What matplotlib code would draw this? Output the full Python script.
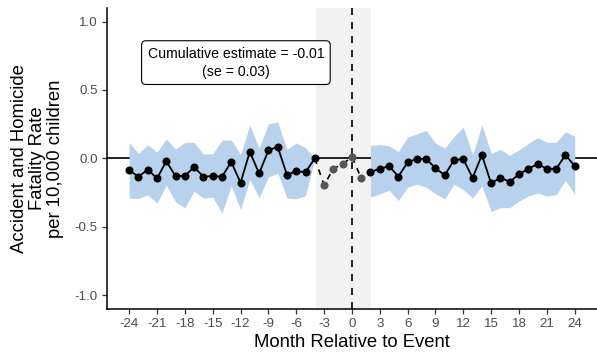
import matplotlib
matplotlib.use("Agg")
import matplotlib.pyplot as plt

plt.rcParams['font.family'] = ['Liberation Sans', 'DejaVu Sans']

# Pre-period (months -24..-4), black
pre_months = list(range(-24, -3))
pre_est = [-0.085, -0.134, -0.081, -0.146, -0.021, -0.129, -0.127, -0.064, -0.133, -0.129,
           -0.134, -0.025, -0.178, 0.049, -0.11, 0.058, 0.086, -0.121, -0.093, -0.1, 0.0]
pre_hi = [0.117, 0.036, 0.1, 0.046, 0.143, 0.068, 0.117, 0.117, 0.032, 0.034,
          0.134, 0.134, 0.029, 0.244, 0.075, 0.252, 0.268, 0.065, 0.113, 0.078, 0.0]
pre_lo = [-0.29, -0.292, -0.266, -0.327, -0.196, -0.317, -0.361, -0.24, -0.29, -0.283,
          -0.4, -0.2, -0.375, -0.155, -0.288, -0.135, -0.108, -0.29, -0.295, -0.273, 0.0]

# Excluded window (months -3..1), grey
mid_months = [-3, -2, -1, 0, 1]
mid_est = [-0.195, -0.075, -0.042, 0.012, -0.144]

# Post-period (months 2..24), black
post_months = list(range(2, 25))
post_est = [-0.097, -0.078, -0.055, -0.133, -0.028, -0.003, -0.003, -0.072, -0.123, -0.011,
            -0.006, -0.142, 0.025, -0.183, -0.14, -0.171, -0.116, -0.075, -0.042, -0.075,
            -0.077, 0.025, -0.055]
post_hi = [0.095, 0.1, 0.092, 0.051, 0.156, 0.18, 0.204, 0.112, 0.076, 0.16,
           0.228, 0.027, 0.245, 0.036, 0.066, 0.022, 0.062, 0.11, 0.152, 0.118,
           0.118, 0.196, 0.162]
post_lo = [-0.283, -0.259, -0.233, -0.308, -0.21, -0.189, -0.21, -0.259, -0.295, -0.189,
           -0.228, -0.29, -0.2, -0.388, -0.36, -0.36, -0.312, -0.275, -0.252, -0.275,
           -0.265, -0.16, -0.265]

xticks = list(range(-24, 25, 3))
yticks = [-1.0, -0.5, 0.0, 0.5, 1.0]
annot_text = "Cumulative estimate = -0.01\n(se = 0.03)"

fig = plt.figure(figsize=(5.97, 3.58), dpi=100)
ax = fig.add_axes([0.179, 0.137, 0.821, 0.841])

ribbon_col = '#B8D2EE'
ax.axvspan(-3.92, 2.05, color='#F2F2F2', lw=0, zorder=0)
ax.axhline(0, color='black', lw=1.2, zorder=1)
ax.fill_between(pre_months, pre_lo, pre_hi, color=ribbon_col, lw=0, zorder=2)
ax.fill_between(post_months, post_lo, post_hi, color=ribbon_col, lw=0, zorder=2)
ax.axvline(0, color='black', lw=1.2, dashes=(4.2, 4.2), zorder=3)

# dashed connector through the excluded window
ax.plot([pre_months[-1]] + mid_months, [pre_est[-1]] + mid_est, color='black', lw=1.2,
        dashes=(3.5, 3.5), zorder=4)
ax.plot(mid_months, mid_est, 'o', color='#555555', ms=5.8, mec='none', zorder=5)

ax.plot(pre_months, pre_est, '-o', color='black', lw=1.3, ms=5.8, mec='none', zorder=6)
ax.plot(post_months, post_est, '-o', color='black', lw=1.3, ms=5.8, mec='none', zorder=6)

ax.text(-12.5, 0.70, annot_text, ha='center', va='center', fontsize=10.2, linespacing=1.35,
        bbox=dict(boxstyle='round,pad=0.42,rounding_size=0.3', fc='white', ec='black', lw=0.8),
        zorder=7)

ax.set_xlim(-26.4, 26.4)
ax.set_ylim(-1.1, 1.1)
ax.set_xticks(xticks)
ax.set_xticklabels([str(t) for t in xticks])
ax.set_yticks(yticks)
ax.set_yticklabels([f"{t:.1f}" for t in yticks])
for s in ['top', 'right']:
    ax.spines[s].set_visible(False)
for s in ['left', 'bottom']:
    ax.spines[s].set_linewidth(1.1)
ax.tick_params(axis='both', colors='#333333', labelcolor='#4D4D4D', labelsize=9.6,
               length=3.5, width=0.9, pad=3)
ax.set_xlabel("Month Relative to Event", fontsize=13.3, labelpad=3)
ax.set_ylabel("Accident and Homicide\nFatality Rate\nper 10,000 children", fontsize=13.3,
              labelpad=8, linespacing=1.05)

fig.savefig("out.png", dpi=100)
